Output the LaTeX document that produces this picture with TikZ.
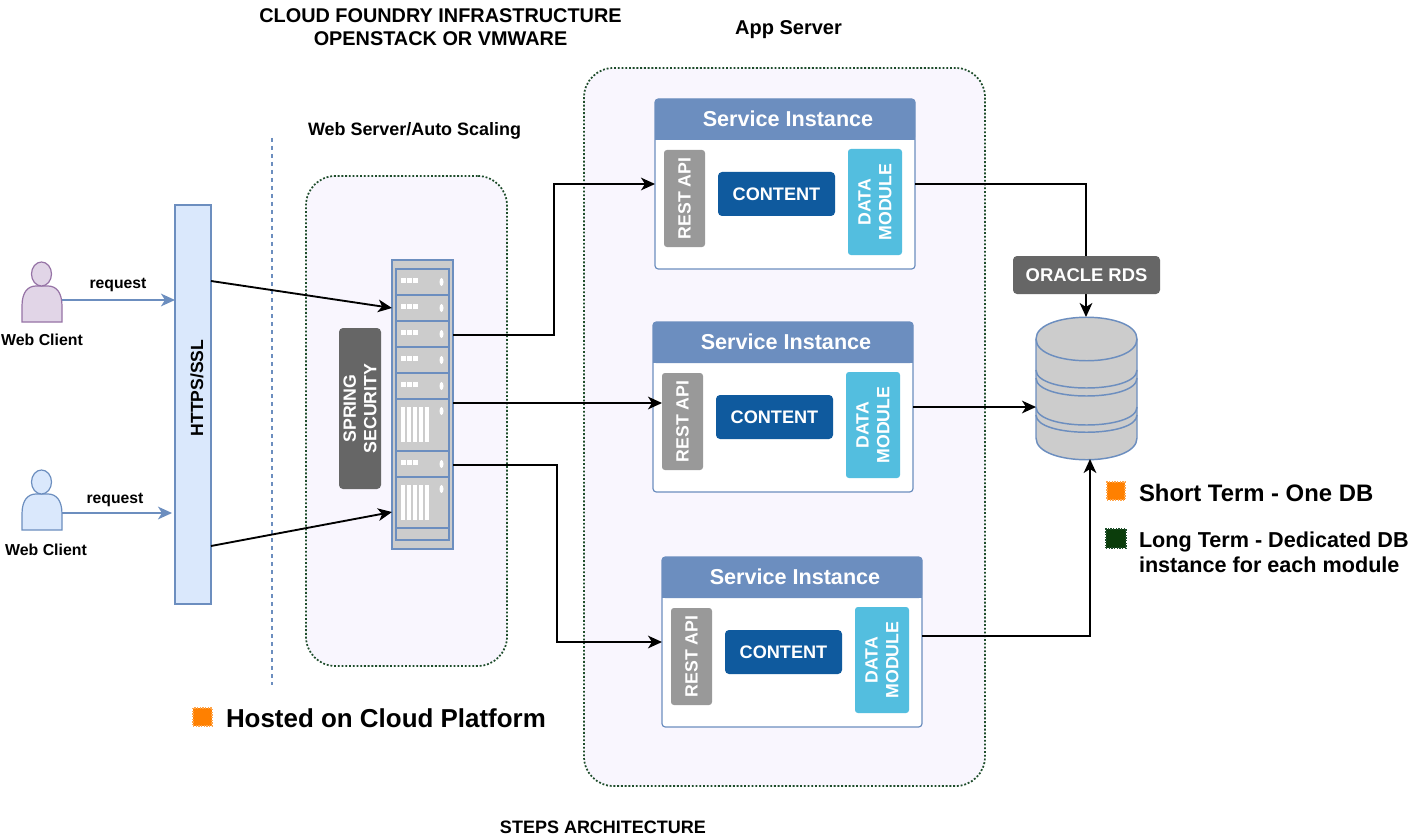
\documentclass[tikz,border=0pt]{standalone}
\usepackage{fontspec}
\setmainfont{Liberation Sans}
\usetikzlibrary{arrows.meta}
\definecolor{frameblue}{HTML}{6C8EBF}
\definecolor{paleblue}{HTML}{DAE8FC}
\definecolor{palepurple}{HTML}{E1D5E7}
\definecolor{purpleline}{HTML}{9673A6}
\definecolor{panelfill}{HTML}{F9F6FE}
\definecolor{dotgreen}{HTML}{1E4D2B}
\definecolor{darkgrey}{HTML}{666666}
\definecolor{midgrey}{HTML}{999999}
\definecolor{lightgrey}{HTML}{CCCCCC}
\definecolor{contentblue}{HTML}{0F5A9E}
\definecolor{datacyan}{HTML}{53BEDF}
\definecolor{legendorange}{HTML}{FF8000}
\definecolor{legendgreen}{HTML}{0B3D0B}
\newcommand\fsz[2]{\fontsize{#1pt}{#2pt}\selectfont\bfseries}
\newcommand\bx[7]{%
  \pgfmathsetmacro\bw{((#5)-(#3))*0.75}\pgfmathsetmacro\bh{((#6)-(#4))*0.75}%
  \node[flat,#2,minimum width=\bw pt,minimum height=\bh pt] (#1) at ({((#3)+(#5))/2},{((#4)+(#6))/2}) {#7};}
\newcommand\rbx[7]{%
  \pgfmathsetmacro\bw{((#5)-(#3))*0.75}\pgfmathsetmacro\bh{((#6)-(#4))*0.75}%
  \node[flat,#2,rotate=90,minimum width=\bh pt,minimum height=\bw pt] (#1) at ({((#3)+(#5))/2},{((#4)+(#6))/2}) {#7};}
\newcommand\svc[3]{% suffix, left, top
  \bx{inst#1}{instbox}{#2}{#3}{#2+260}{#3+170}{}
  \fill[frameblue,rounded corners=2.2pt] (#2,#3+41) -- (#2,#3) -- (#2+260,#3) -- (#2+260,#3+41) -- cycle;
  \fill[frameblue] (#2,#3+33) rectangle (#2+260,#3+41);
  \node[txt,text=white,font=\fsz{16.2}{18}] (head#1) at (#2+133,#3+20) {Service Instance};
  \rbx{rest#1}{fill=midgrey,rounded corners=2.2pt,text=white,font=\fsz{13.3}{15.5}}{#2+9}{#3+51}{#2+50}{#3+148}{REST API}
  \bx{content#1}{fill=contentblue,rounded corners=3pt,text=white,font=\fsz{13.6}{16}}{#2+63}{#3+73}{#2+180}{#3+117}{CONTENT}
  \rbx{data#1}{fill=datacyan,rounded corners=2.2pt,text=white,font=\fsz{13.3}{15.5}}{#2+193}{#3+50}{#2+247}{#3+156}{DATA\\MODULE}
}
\newcommand\person[4]{% name, top, fill, line
  \path[draw=#4,fill=#3,line width=0.9pt] (22,#2+60) -- (22,#2+44) .. controls (22,#2+30) and (28,#2+24) .. (36,#2+24) -- (48,#2+24) .. controls (56,#2+24) and (62,#2+30) .. (62,#2+44) -- (62,#2+60) -- cycle;
  \path[draw=#4,fill=#3,line width=0.9pt] (41.5,#2+12) ellipse [x radius=10,y radius=12];
  \coordinate (#1) at (62,#2+38);
}
\newcommand\smallunit[2]{%
  \path[draw=frameblue,fill=lightgrey,line width=1.3pt] (396,#1) rectangle (449,#2);
  \foreach \dx in {401,407,413} \fill[white] (\dx,#1+9) rectangle (\dx+4.5,#1+14);
  \fill[white] (441.5,#1+13) ellipse [x radius=2,y radius=4];
}
\newcommand\bigunit[2]{%
  \path[draw=frameblue,fill=lightgrey,line width=1.3pt] (396,#1) rectangle (449,#2);
  \foreach \dx in {401,407,413,419,425} \fill[white] (\dx,#1+8) rectangle (\dx+4.2,#1+43);
  \fill[white] (441.5,#1+12) ellipse [x radius=2,y radius=4];
}
\tikzset{
  flat/.style={inner sep=0pt,outer sep=0pt,align=center},
  txt/.style={inner sep=0pt,outer sep=0pt,align=center,text=black},
  panel/.style={draw=dotgreen,fill=panelfill,line width=1.3pt,dash pattern=on 1.4pt off 1.4pt,rounded corners=22pt},
  instbox/.style={draw=frameblue,fill=white,line width=0.9pt,rounded corners=2.5pt},
  blk/.style={draw=black,line width=1.4pt,-{Stealth[length=10.5pt,width=9.5pt,inset=3pt]}},
  blu/.style={draw=frameblue,line width=1.4pt,-{Stealth[length=10.5pt,width=9.5pt,inset=3pt]}},
  cyl/.style={draw=frameblue,line width=1.1pt},
  swatch/.style={line width=1pt,dash pattern=on 1pt off 1pt}
}
\begin{document}
\begin{tikzpicture}[x=0.75pt,y=-0.75pt]
\useasboundingbox (0,0) rectangle (1414,838);
\fill[white] (0,0) rectangle (1414,838);

% panels
\bx{webpanel}{panel}{306}{176}{507}{666}{}
\bx{apppanel}{panel}{584}{68}{985}{786}{}

% titles
\node[txt,font=\fsz{14.9}{17.3}] (cftitle) at (440.5,27) {CLOUD FOUNDRY INFRASTRUCTURE\\OPENSTACK OR VMWARE};
\node[txt,font=\fsz{15}{17}] (apptitle) at (788.5,30) {App Server};
\node[txt,font=\fsz{13.45}{16}] (webtitle) at (414.5,131) {Web Server/Auto Scaling};
\node[txt,font=\fsz{13.5}{15}] (steps) at (603,827) {STEPS ARCHITECTURE};

% dashed separator
\coordinate (septop) at (272,138);
\coordinate (sepbot) at (272,685);
\draw[frameblue,line width=1.1pt,dashed] (septop) -- (sepbot);

% clients
\person{p1out}{262}{palepurple}{purpleline}
\person{p2out}{470}{paleblue}{frameblue}
\node[txt,font=\fsz{11.9}{14}] (wc1) at (42,339.5) {Web Client};
\node[txt,font=\fsz{11.9}{14}] (wc2) at (46,549.5) {Web Client};

% HTTPS bar
\bx{https}{draw=frameblue,fill=paleblue,line width=2.2pt}{175}{205}{211}{604}{}
\node[txt,rotate=90,font=\fsz{13.2}{15}] (httpslabel) at (197,388) {HTTPS/SSL};
\coordinate (httpsA) at (211,281);
\coordinate (httpsB) at (211,546);
\coordinate (barA) at (175,300);
\coordinate (barB) at (172,513);
\draw[blu] (p1out) -- (barA);
\draw[blu] (p2out |- barB) -- (barB);
\node[txt,font=\fsz{11.8}{14}] (req1) at (118,285.5) {request};
\node[txt,font=\fsz{11.8}{14}] (req2) at (115,499.5) {request};

% spring security
\rbx{spring}{fill=darkgrey,rounded corners=3pt,text=white,font=\fsz{13.3}{15.5}}{339}{328}{381}{489}{SPRING\\SECURITY}

% rack
\bx{rack}{draw=frameblue,fill=lightgrey,line width=1.6pt}{392}{260}{453}{549}{}
\smallunit{269}{295}
\smallunit{295}{321}
\smallunit{321}{347}
\smallunit{347}{373}
\smallunit{373}{399}
\bigunit{399}{451}
\smallunit{451}{477}
\bigunit{477}{528}
\path[draw=frameblue,fill=lightgrey,line width=1.3pt] (396,528) rectangle (449,540);

% service instances
\svc{A}{655}{99}
\svc{B}{653}{322}
\svc{C}{662}{557}

% database
\bx{db}{}{1036}{317}{1137}{460}{}
\path[cyl,fill=lightgrey] (1036,339) .. controls (1036,310) and (1137,310) .. (1137,339) -- (1137,438) .. controls (1137,467) and (1036,467) .. (1036,438) -- cycle;
\draw[cyl] (1036,339) .. controls (1036,368) and (1137,368) .. (1137,339);
\draw[cyl] (1036,370) .. controls (1036,394) and (1137,394) .. (1137,370);
\draw[cyl] (1036,378) .. controls (1036,402) and (1137,402) .. (1137,378);
\draw[cyl] (1036,407) .. controls (1036,431) and (1137,431) .. (1137,407);
\draw[cyl] (1036,415) .. controls (1036,438) and (1137,438) .. (1137,415);

% connectors
\coordinate (rackIn1) at (392,308);
\coordinate (rackIn2) at (392,512);
\coordinate (rackOut1) at (453,335);
\coordinate (rackOut2) at (453,403);
\coordinate (rackOut3) at (453,465);
\coordinate (midA) at (554,335);
\coordinate (midC) at (557,465);
\coordinate (instCout) at (922,636);
\coordinate (dbTop) at (1086,317);
\coordinate (dbIn3) at (1090,459);
\draw[blk] (httpsA) -- (rackIn1);
\draw[blk] (httpsB) -- (rackIn2);
\draw[blk] (rackOut1) -- (midA) |- (instA.west);
\draw[blk] (rackOut2) -- (restB.north |- rackOut2);
\draw[blk] (rackOut3) -- (midC) |- (instC.west);
\draw[blk] (instA.east) -| (dbTop);
\draw[blk] (instB.east) -- (db.west |- instB.east);
\draw[blk] (instCout) -| (dbIn3);

% oracle
\bx{oracle}{fill=darkgrey,rounded corners=3pt,text=white,font=\fsz{13.8}{16}}{1013}{256}{1160}{294}{ORACLE RDS}

% legends
\bx{swShort}{fill=legendorange,draw=legendorange!70,swatch}{1107}{482}{1125}{500}{}
\bx{swLong}{fill=legendgreen,draw=dotgreen,swatch}{1106}{529}{1126}{548}{}
\bx{swHost}{fill=legendorange,draw=legendorange!70,swatch}{193}{708}{212}{726}{}
\node[txt,anchor=west,font=\fsz{17.9}{21}] (lgShort) at (1139,492.5) {Short Term - One DB};
\node[txt,anchor=west,align=left,font=\fsz{16.2}{19}] (lgLong) at (1139,552.5) {Long Term - Dedicated DB\\instance for each module};
\node[txt,anchor=west,font=\fsz{19.45}{22}] (lgHost) at (226,718.5) {Hosted on Cloud Platform};
\end{tikzpicture}
\end{document}
